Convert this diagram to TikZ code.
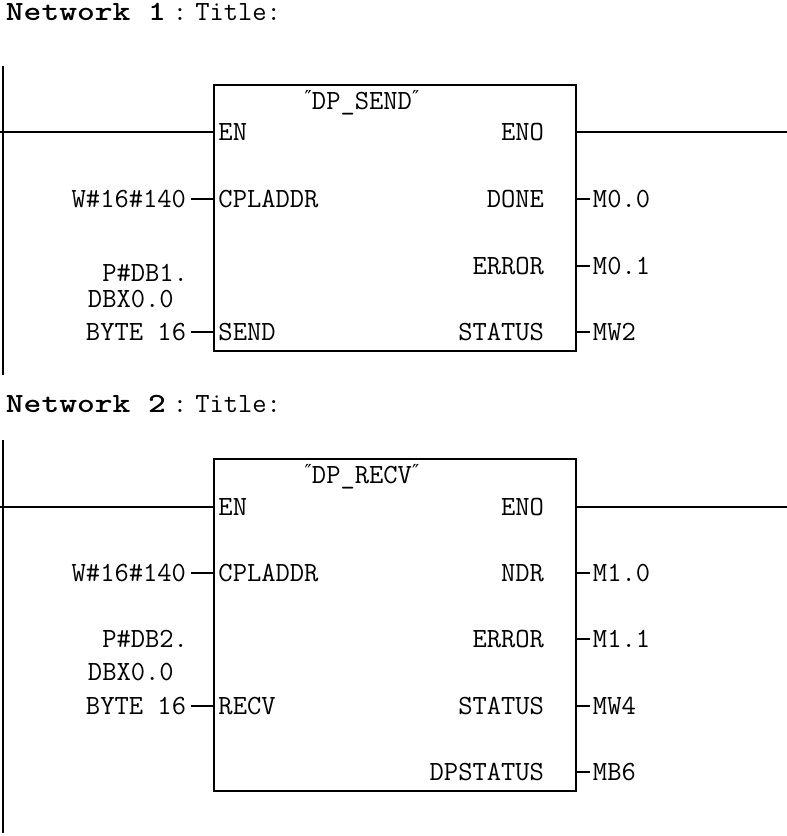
\documentclass[tikz,border=0pt]{standalone}
\usepackage{fontspec}
\usepackage{tikz}
\usetikzlibrary{positioning}

\newfontfamily\quotefont{DejaVu Sans}
\newcommand{\plc}{\ttfamily\fontsize{15.8}{19}\selectfont}
\newcommand{\dq}{{\quotefont\fontsize{11}{11}\selectfont\raisebox{0.5ex}{″}}}

\begin{document}
\begin{tikzpicture}[x=0.02cm, y=-0.02cm, line width=1.1pt,
    fb/.style={draw, rectangle, minimum width=7.24cm, anchor=north west, inner sep=0pt},
    pinl/.style={font=\plc, anchor=west, text height=0.34cm, text depth=0pt, inner xsep=0.09cm, inner ysep=0pt},
    pinr/.style={font=\plc, anchor=east, text height=0.34cm, text depth=0pt, inner xsep=0.6cm, inner ysep=0pt},
    inval/.style={font=\plc, anchor=east, text height=0.34cm, text depth=0pt, inner xsep=0.08cm, inner ysep=0pt},
    outval/.style={font=\plc, anchor=west, text height=0.34cm, text depth=0pt, inner xsep=0.04cm, inner ysep=0pt},
    fbname/.style={font=\plc, inner sep=0pt},
    nethead/.style={font=\plc, anchor=west, inner sep=0pt, text height=0.34cm, text depth=0pt}]
    \useasboundingbox (0,0) rectangle (787,836);

    % Network 1: DP_SEND
    \node[nethead] (head1) at (5,12) {\scalebox{1.22}[1]{\bfseries Network 1}};
    \node[nethead] (title1) at (172,12) {:\hspace{0.16cm}Title:};
    \draw (3,66) -- (3,375);
    \coordinate (r1) at (0,132);
    \coordinate (o1) at (787,132);
    \node[fb, minimum height=5.32cm] (send) at (213,84) {};
    \node[fbname] (send-name) at (362,103) {\dq DP\_SEND\dq};

    \node[pinl] (s-en) at (213,132) {EN};
    \node[pinl] (s-cpl) at (213,199) {CPLADDR};
    \node[pinl] (s-send) at (213,332) {SEND};
    \node[pinr] (s-eno) at (575,132) {ENO};
    \node[pinr] (s-done) at (575,199) {DONE};
    \node[pinr] (s-err) at (575,266) {ERROR};
    \node[pinr] (s-stat) at (575,332) {STATUS};

    \node[inval] (s-cplv) at (191,199) {W\#16\#140};
    \node[inval] (s-sendv) at (191,332) {BYTE 16};
    \node[outval, anchor=west, inner xsep=0pt] (s-p1) at (87,273) {\phantom{B}P\#DB1.};
    \node[outval, anchor=west, inner xsep=0pt] (s-p2) at (87,299) {DBX0.0};
    \node[outval] (s-donev) at (590,199) {M0.0};
    \node[outval] (s-errv) at (590,266) {M0.1};
    \node[outval] (s-statv) at (590,332) {MW2};

    \draw (r1) -- (s-en.west);
    \draw (s-eno.east) -- (o1);
    \draw (s-cplv.east) -- (s-cpl.west);
    \draw (s-sendv.east) -- (s-send.west);
    \draw (s-done.east) -- (s-donev.west);
    \draw (s-err.east) -- (s-errv.west);
    \draw (s-stat.east) -- (s-statv.west);

    % Network 2: DP_RECV
    \node[nethead] (head2) at (5,404) {\scalebox{1.22}[1]{\bfseries Network 2}};
    \node[nethead] (title2) at (172,404) {:\hspace{0.16cm}Title:};
    \draw (3,440) -- (3,833);
    \coordinate (r2) at (0,507);
    \coordinate (o2) at (787,507);
    \node[fb, minimum height=6.64cm] (recv) at (213,458) {};
    \node[fbname] (recv-name) at (362,477) {\dq DP\_RECV\dq};

    \node[pinl] (r-en) at (213,507) {EN};
    \node[pinl] (r-cpl) at (213,573) {CPLADDR};
    \node[pinl] (r-recv) at (213,706) {RECV};
    \node[pinr] (r-eno) at (575,507) {ENO};
    \node[pinr] (r-ndr) at (575,573) {NDR};
    \node[pinr] (r-err) at (575,639) {ERROR};
    \node[pinr] (r-stat) at (575,706) {STATUS};
    \node[pinr] (r-dpst) at (575,772) {DPSTATUS};

    \node[inval] (r-cplv) at (191,573) {W\#16\#140};
    \node[inval] (r-recvv) at (191,706) {BYTE 16};
    \node[outval, anchor=west, inner xsep=0pt] (r-p1) at (87,639) {\phantom{B}P\#DB2.};
    \node[outval, anchor=west, inner xsep=0pt] (r-p2) at (87,672) {DBX0.0};
    \node[outval] (r-ndrv) at (590,573) {M1.0};
    \node[outval] (r-errv) at (590,639) {M1.1};
    \node[outval] (r-statv) at (590,706) {MW4};
    \node[outval] (r-dpstv) at (590,772) {MB6};

    \draw (r2) -- (r-en.west);
    \draw (r-eno.east) -- (o2);
    \draw (r-cplv.east) -- (r-cpl.west);
    \draw (r-recvv.east) -- (r-recv.west);
    \draw (r-ndr.east) -- (r-ndrv.west);
    \draw (r-err.east) -- (r-errv.west);
    \draw (r-stat.east) -- (r-statv.west);
    \draw (r-dpst.east) -- (r-dpstv.west);
\end{tikzpicture}
\end{document}
